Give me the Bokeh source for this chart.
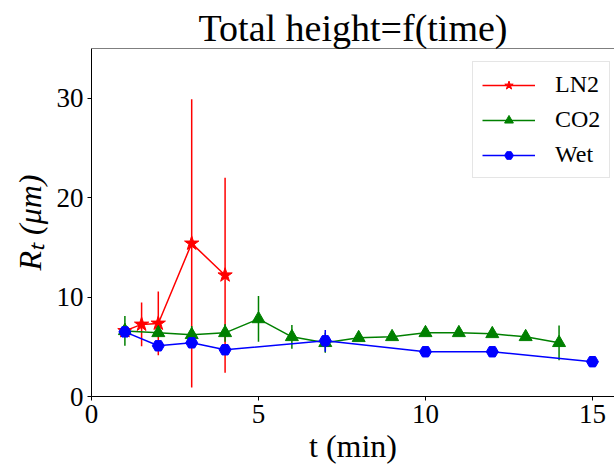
from bokeh.plotting import figure
from bokeh.models import Range1d, FixedTicker, Span, Legend, LegendItem
from bokeh.embed import file_html
from bokeh.resources import INLINE

# ---- data ----
ln2_t = [1, 1.5, 2, 3, 4]
ln2_r = [6.6, 7.25, 7.35, 15.4, 12.2]
ln2_err = [0.4, 2.2, 3.2, 14.5, 9.8]

co2_t = [1, 2, 3, 4, 5, 6, 7, 8, 9, 10, 11, 12, 13, 14]
co2_r = [6.6, 6.4, 6.2, 6.4, 7.8, 6.0, 5.4, 5.9, 6.0, 6.4, 6.4, 6.3, 6.0, 5.4]
co2_err = [1.5, 0.4, 0.9, 0.9, 2.3, 1.2, 1.0, 0.3, 0.3, 0.3, 0.3, 0.3, 0.3, 1.75]

wet_t = [1, 2, 3, 4, 7, 10, 12, 15]
wet_r = [6.5, 5.1, 5.4, 4.7, 5.6, 4.5, 4.5, 3.5]
wet_err = [0.5, 0.3, 0.3, 0.3, 1.1, 0.2, 0.2, 0.2]

x_ticks = [0, 5, 10, 15]
y_ticks = [0, 10, 20, 30]

series = [
    ("LN2", ln2_t, ln2_r, ln2_err, "#ff0000", "star", 15),
    ("CO2", co2_t, co2_r, co2_err, "#008000", "triangle", 13),
    ("Wet", wet_t, wet_r, wet_err, "#0000ff", "hex", 12),
]

FONT = "Liberation Serif"

p = figure(frame_width=523, frame_height=348, output_backend="svg", toolbar_location=None,
           x_range=Range1d(0, 15.66), y_range=Range1d(0, 35),
           min_border_left=91, min_border_right=0, min_border_top=48, min_border_bottom=74)

p.title.text = "Total height=f(time)"
p.title.text_font = FONT
p.title.text_font_size = "38px"
p.title.text_font_style = "normal"
p.title.text_color = "black"
p.title.align = "center"
p.title.standoff = 0

p.outline_line_color = None
p.grid.visible = False
p.add_layout(Span(location=35, dimension="width", line_color="black", line_width=1))

for ax, ticks in ((p.xaxis, x_ticks), (p.yaxis, y_ticks)):
    ax.ticker = FixedTicker(ticks=ticks)
    ax.minor_tick_line_color = None
    ax.major_tick_in = 0
    ax.major_tick_out = 4
    ax.major_label_text_font = FONT
    ax.major_label_text_font_size = "27px"
    ax.major_label_text_color = "black"
    ax.axis_line_color = "black"
    ax.major_tick_line_color = "black"
    ax.major_label_standoff = 4
    ax.axis_label_text_font = FONT
    ax.axis_label_text_font_size = "32px"
    ax.axis_label_text_color = "black"

p.xaxis.axis_label = "t (min)"
p.xaxis.axis_label_text_font_style = "normal"
p.xaxis.axis_label_standoff = 2
p.yaxis.axis_label = "Rₜ (μm)"
p.yaxis.axis_label_text_font_style = "italic"
p.yaxis.axis_label_standoff = 6

items = []
for name, t, r, e, col, mk, sz in series:
    lr = p.line(t, r, line_color=col, line_width=1.5)
    sr = p.segment(x0=t, y0=[a - b for a, b in zip(r, e)], x1=t,
                   y1=[a + b for a, b in zip(r, e)], line_color=col, line_width=1.5)
    mr = p.scatter(t, r, marker=mk, size=sz, fill_color=col, line_color=col)
    items.append(LegendItem(label=name, renderers=[lr, mr]))

leg = Legend(items=items, location=(381, 218), label_text_font=FONT,
             label_text_font_size="24px", label_text_color="black",
             glyph_width=53, glyph_height=22,
             spacing=8, padding=9, label_standoff=20, margin=0,
             border_line_color="#cccccc", border_line_width=1,
             background_fill_color="white", background_fill_alpha=0.8)
p.add_layout(leg)

open("out.html", "w").write(file_html(p, INLINE))
